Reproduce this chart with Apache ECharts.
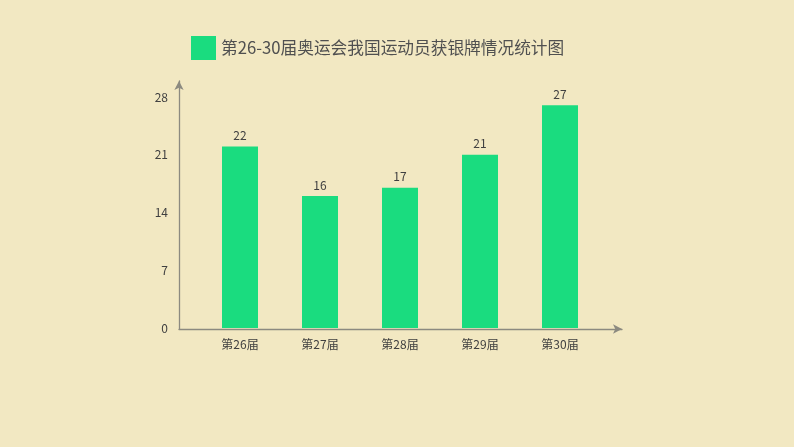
<!DOCTYPE html>
<html>
<head>
<meta charset="utf-8">
<script src="https://cdn.jsdelivr.net/npm/echarts@6/dist/echarts.min.js"></script>
<style>
html,body{margin:0;padding:0;background:#F2E8C2;}
#c{width:794px;height:447px;}
</style>
</head>
<body>
<div id="c"></div>
<script>
var categories = ['第26届', '第27届', '第28届', '第29届', '第30届'];
var silverMedals = [22, 16, 17, 21, 27];
var yTicks = [0, 7, 14, 21, 28];
var seriesName = '第26-30届奥运会我国运动员获银牌情况统计图';

var font = '"Noto Sans CJK SC", "Microsoft YaHei", sans-serif';
var chart = echarts.init(document.getElementById('c'));
chart.setOption({
  backgroundColor: '#F2E8C2',
  animation: false,
  legend: {
    left: 186, top: 31,
    itemWidth: 25, itemHeight: 24,
    icon: 'rect',
    textStyle: { fontSize: 16.7, color: '#505050', fontFamily: font },
    data: [seriesName]
  },
  grid: [
    { left: 200, right: 194, top: 97, bottom: 119 },
    { left: 179, right: 172, top: 81, bottom: 118 }
  ],
  xAxis: [
    {
      type: 'category', gridIndex: 0, data: categories,
      axisLine: { show: false }, axisTick: { show: false },
      axisLabel: { margin: 10, fontSize: 12, color: '#404040', fontFamily: font }
    },
    {
      type: 'value', gridIndex: 1, min: 0, max: 1,
      axisLine: { show: true, symbol: ['none', 'arrow'], symbolSize: [7, 9], lineStyle: { color: '#8C8A80', width: 1.3 } },
      axisTick: { show: false }, axisLabel: { show: false }, splitLine: { show: false }
    }
  ],
  yAxis: [
    {
      type: 'value', gridIndex: 0, min: yTicks[0], max: yTicks[yTicks.length - 1], interval: 7,
      axisLine: { show: false }, axisTick: { show: false }, splitLine: { show: false },
      axisLabel: { margin: 32, fontSize: 12, color: '#404040', fontFamily: font }
    },
    {
      type: 'value', gridIndex: 1, min: 0, max: 1,
      axisLine: { show: true, symbol: ['none', 'arrow'], symbolSize: [7, 9], lineStyle: { color: '#8C8A80', width: 1.3 } },
      axisTick: { show: false }, axisLabel: { show: false }, splitLine: { show: false }
    }
  ],
  series: [{
    name: seriesName,
    type: 'bar',
    xAxisIndex: 0, yAxisIndex: 0,
    data: silverMedals,
    barWidth: 36,
    itemStyle: { color: '#1ADC7F' },
    label: { show: true, position: 'top', distance: 5, fontSize: 12, color: '#404040', fontFamily: font }
  }]
});
</script>
</body>
</html>
